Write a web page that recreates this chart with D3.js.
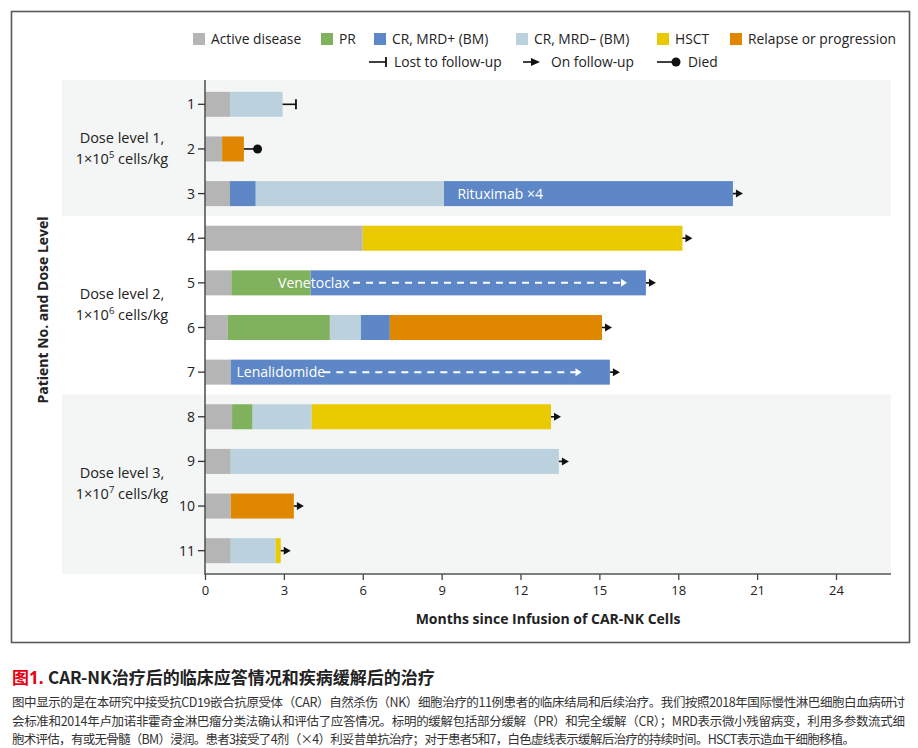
<!DOCTYPE html>
<html>
<head>
<meta charset="utf-8">
<script src="https://cdn.jsdelivr.net/npm/d3@7"></script>
<style>
  body { margin: 0; background: #fff; }
  text { font-family: "Open Sans", "Noto Sans", sans-serif; fill: #222; }
  .cjk { font-family: "Noto Sans CJK SC", sans-serif; }
</style>
</head>
<body>
<script>
// patients, top to bottom
var patients = ["1", "2", "3", "4", "5", "6", "7", "8", "9", "10", "11"];

// response states (legend order)
var stateKeys = ["active", "pr", "mrdpos", "mrdneg", "hsct", "relapse"];
var stateNames = ["Active disease", "PR", "CR, MRD+ (BM)", "CR, MRD\u2013 (BM)", "HSCT", "Relapse or progression"];
var stateColors = ["#b4b5b4", "#80b25d", "#5d87c6", "#bbd2de", "#e9c900", "#e08700"];

// each patient: [state, end month]
var segments = [
  [["active", 0.95], ["mrdneg", 2.95]],
  [["active", 0.65], ["relapse", 1.48]],
  [["active", 0.95], ["mrdpos", 1.93], ["mrdneg", 9.09], ["mrdpos", 20.08]],
  [["active", 6.0], ["hsct", 18.16]],
  [["active", 1.0], ["pr", 4.02], ["mrdpos", 16.77]],
  [["active", 0.87], ["pr", 4.75], ["mrdneg", 5.93], ["mrdpos", 7.03], ["relapse", 15.1]],
  [["active", 0.98], ["mrdpos", 15.4]],
  [["active", 1.03], ["pr", 1.81], ["mrdneg", 4.06], ["hsct", 13.16]],
  [["active", 0.98], ["mrdneg", 13.46]],
  [["active", 0.98], ["relapse", 3.38]],
  [["active", 0.98], ["mrdneg", 2.69], ["hsct", 2.88]]
];

// outcome after the bar, and where the lost/died marker sits
var outcomes = ["lost", "died", "on", "on", "on", "on", "on", "on", "on", "on", "on"];
var outcomeEnds = [3.46, 2.0, null, null, null, null, null, null, null, null, null];

// therapy labels and white dashed duration lines
var therapyPatients = ["3", "5", "7"];
var therapyTexts = ["Rituximab \u00d74", "Venetoclax", "Lenalidomide"];
var therapyStarts = [9.6, 2.78, 1.2];
var dashPatients = ["5", "7"];
var dashFrom = [5.63, 4.5];
var dashTo = [16.05, 14.32];

// dose groups
var groupRows = [["1", "2", "3"], ["4", "5", "6", "7"], ["8", "9", "10", "11"]];
var groupNames = ["Dose level 1,", "Dose level 2,", "Dose level 3,"];
var groupExps = ["5", "6", "7"];

var xTicks = [0, 3, 6, 9, 12, 15, 18, 21, 24];

var captionTitle = "CAR-NK治疗后的临床应答情况和疾病缓解后的治疗";
var captionLines = [
  "图中显示的是在本研究中接受抗CD19嵌合抗原受体（CAR）自然杀伤（NK）细胞治疗的11例患者的临床结局和后续治疗。我们按照2018年国际慢性淋巴细胞白血病研讨",
  "会标准和2014年卢加诺非霍奇金淋巴瘤分类法确认和评估了应答情况。标明的缓解包括部分缓解（PR）和完全缓解（CR）；MRD表示微小残留病变，利用多参数流式细",
  "胞术评估，有或无骨髓（BM）浸润。患者3接受了4剂（×4）利妥昔单抗治疗；对于患者5和7，白色虚线表示缓解后治疗的持续时间。HSCT表示造血干细胞移植。"
];
var captionWidths = [893, 893, 843];

var W = 918, H = 748;
var svg = d3.select("body").append("svg")
    .attr("width", W)
    .attr("height", H);

// frame
svg.append("rect")
    .attr("x", 11.5).attr("y", 11.5)
    .attr("width", 898).attr("height", 631)
    .attr("fill", "#fff")
    .attr("stroke", "#5a5a5a")
    .attr("stroke-width", 1.6);

var color = d3.scaleOrdinal().domain(stateKeys).range(stateColors);

var x = d3.scaleLinear().domain([0, 24]).range([205, 836]);
var y = d3.scaleBand().domain(patients).range([82, 573]);
var barH = 25;
var plotLeft = 62, plotRight = 891, plotTop = 80, plotBottom = 574;

// shaded group bands (1 and 3)
groupRows.forEach(function (rows, i) {
  if (i === 1) return;
  var top = i === 0 ? plotTop : y(rows[0]);
  var bottom = i === 2 ? plotBottom : y(rows[rows.length - 1]) + y.bandwidth();
  svg.append("rect")
      .attr("x", plotLeft).attr("y", top)
      .attr("width", plotRight - plotLeft).attr("height", bottom - top)
      .attr("fill", "#f4f5f5");
});

// group labels
groupRows.forEach(function (rows, i) {
  var mid = (y(rows[0]) + y(rows[rows.length - 1]) + y.bandwidth()) / 2;
  svg.append("text")
      .attr("x", 122).attr("y", mid - 6)
      .attr("text-anchor", "middle")
      .style("font-size", "14.5px")
      .text(groupNames[i]);
  var t = svg.append("text")
      .attr("x", 122).attr("y", mid + 15)
      .attr("text-anchor", "middle")
      .style("font-size", "14.5px");
  t.append("tspan").text("1\u00d710");
  t.append("tspan").attr("dy", -6).style("font-size", "9.5px").text(groupExps[i]);
  t.append("tspan").attr("dy", 6).text(" cells/kg");
});

// bars
var rows = svg.append("g");
patients.forEach(function (p, i) {
  var start = 0;
  var cy = y(p) + y.bandwidth() / 2;
  segments[i].forEach(function (s) {
    rows.append("rect")
        .attr("x", x(start))
        .attr("y", cy - barH / 2)
        .attr("width", x(s[1]) - x(start))
        .attr("height", barH)
        .attr("fill", color(s[0]));
    start = s[1];
  });

  var endX = x(start);
  if (outcomes[i] === "on") {
    rows.append("line")
        .attr("x1", endX).attr("x2", endX + 4)
        .attr("y1", cy).attr("y2", cy)
        .attr("stroke", "#111").attr("stroke-width", 1.6);
    rows.append("path")
        .attr("d", "M" + (endX + 3) + "," + (cy - 4) + "L" + (endX + 10) + "," + cy + "L" + (endX + 3) + "," + (cy + 4) + "Z")
        .attr("fill", "#111");
  } else {
    var mx = x(outcomeEnds[i]);
    rows.append("line")
        .attr("x1", endX).attr("x2", mx)
        .attr("y1", cy).attr("y2", cy)
        .attr("stroke", "#111").attr("stroke-width", 1.6);
    if (outcomes[i] === "lost") {
      rows.append("line")
          .attr("x1", mx).attr("x2", mx)
          .attr("y1", cy - 5).attr("y2", cy + 5)
          .attr("stroke", "#111").attr("stroke-width", 1.8);
    } else {
      rows.append("circle")
          .attr("cx", mx).attr("cy", cy).attr("r", 4.5)
          .attr("fill", "#111");
    }
  }
});

// therapy labels
therapyPatients.forEach(function (p, i) {
  svg.append("text")
      .attr("x", x(therapyStarts[i]))
      .attr("y", y(p) + y.bandwidth() / 2 + 5)
      .style("font-size", "14px")
      .style("fill", "#fff")
      .text(therapyTexts[i]);
});

// dashed post-remission therapy lines
dashPatients.forEach(function (p, i) {
  var cy = y(p) + y.bandwidth() / 2;
  var x1 = x(dashFrom[i]), x2 = x(dashTo[i]);
  svg.append("line")
      .attr("x1", x1).attr("x2", x2 - 5)
      .attr("y1", cy).attr("y2", cy)
      .attr("stroke", "#fff").attr("stroke-width", 2)
      .attr("stroke-dasharray", "7,6");
  svg.append("path")
      .attr("d", "M" + (x2 - 6) + "," + (cy - 4) + "L" + x2 + "," + cy + "L" + (x2 - 6) + "," + (cy + 4) + "Z")
      .attr("fill", "#fff");
});

// y axis
svg.append("line")
    .attr("x1", 205).attr("x2", 205)
    .attr("y1", plotTop).attr("y2", plotBottom + 1)
    .attr("stroke", "#555").attr("stroke-width", 1.6);
patients.forEach(function (p) {
  var cy = y(p) + y.bandwidth() / 2;
  svg.append("line")
      .attr("x1", 198).attr("x2", 205)
      .attr("y1", cy).attr("y2", cy)
      .attr("stroke", "#333").attr("stroke-width", 1.3);
  svg.append("text")
      .attr("x", 195).attr("y", cy + 5)
      .attr("text-anchor", "end")
      .style("font-size", "14px")
      .text(p);
});

// x axis
var xAxis = svg.append("g")
    .attr("transform", "translate(0," + plotBottom + ")")
    .call(d3.axisBottom(x).tickValues(xTicks).tickSize(6).tickSizeOuter(0));
xAxis.select(".domain").remove();
xAxis.selectAll(".tick line").attr("stroke", "#444").attr("stroke-width", 1.3);
xAxis.selectAll(".tick text")
    .style("font-size", "13px")
    .style("font-family", "'Open Sans', sans-serif")
    .attr("fill", "#222")
    .attr("dy", "0.9em");
svg.append("line")
    .attr("x1", 205).attr("x2", plotRight)
    .attr("y1", plotBottom).attr("y2", plotBottom)
    .attr("stroke", "#555").attr("stroke-width", 1.6);

// axis titles
svg.append("text")
    .attr("x", 548).attr("y", 624)
    .attr("text-anchor", "middle")
    .style("font-size", "14px")
    .style("font-weight", "bold")
    .text("Months since Infusion of CAR-NK Cells");

svg.append("text")
    .attr("transform", "translate(48,310) rotate(-90)")
    .attr("text-anchor", "middle")
    .style("font-size", "14px")
    .style("font-weight", "bold")
    .text("Patient No. and Dose Level");

// legend, row 1
var legendX = [211, 339, 392, 534, 675, 748];
stateKeys.forEach(function (k, i) {
  svg.append("rect")
      .attr("x", legendX[i] - 18).attr("y", 33)
      .attr("width", 12).attr("height", 12)
      .attr("fill", stateColors[i]);
  svg.append("text")
      .attr("x", legendX[i]).attr("y", 44)
      .style("font-size", "13.8px")
      .text(stateNames[i]);
});

// legend, row 2
var lg = svg.append("g").attr("stroke", "#111").attr("stroke-width", 1.6);
lg.append("line").attr("x1", 369).attr("x2", 386).attr("y1", 62).attr("y2", 62);
lg.append("line").attr("x1", 386).attr("x2", 386).attr("y1", 57).attr("y2", 67).attr("stroke-width", 1.8);
lg.append("line").attr("x1", 523).attr("x2", 533).attr("y1", 62).attr("y2", 62);
svg.append("path").attr("d", "M531,58L540,62L531,66Z").attr("fill", "#111");
lg.append("line").attr("x1", 657).attr("x2", 676).attr("y1", 62).attr("y2", 62);
svg.append("circle").attr("cx", 676).attr("cy", 62).attr("r", 4.5).attr("fill", "#111");
[["Lost to follow-up", 394], ["On follow-up", 551], ["Died", 688]].forEach(function (d) {
  svg.append("text")
      .attr("x", d[1]).attr("y", 67)
      .style("font-size", "13.8px")
      .text(d[0]);
});

// caption
var ct = svg.append("text")
    .attr("class", "cjk")
    .attr("x", 12).attr("y", 684)
    .style("font-size", "17px")
    .style("font-weight", "bold");
ct.append("tspan").style("fill", "#e60012").text("图");
ct.append("tspan").style("fill", "#e60012").style("font-family", "'Open Sans', sans-serif").text("1. ");
ct.append("tspan").style("fill", "#222").text(captionTitle);

captionLines.forEach(function (line, i) {
  svg.append("text")
      .attr("class", "cjk")
      .attr("x", 12).attr("y", 707 + i * 18.5)
      .style("font-size", "12.5px")
      .style("fill", "#333")
      .attr("textLength", captionWidths[i])
      .attr("lengthAdjust", "spacing")
      .text(line);
});
</script>
</body>
</html>
